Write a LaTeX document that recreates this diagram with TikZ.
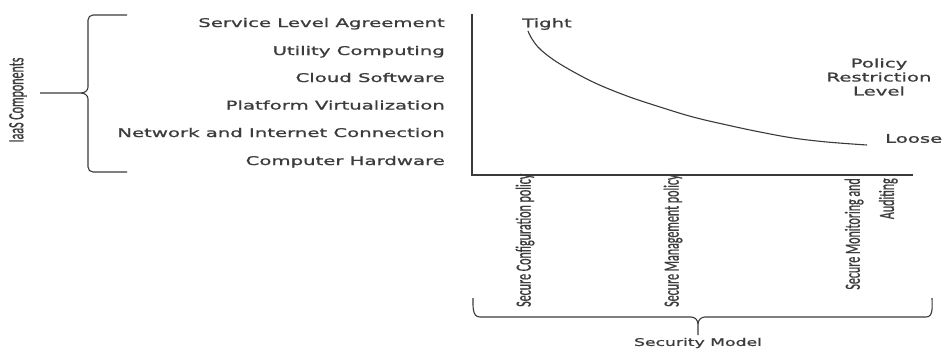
\documentclass[tikz,border=0pt]{standalone}
\usepackage{fontspec}
\newfontfamily\hfont[FakeStretch=1.64,FakeBold=1.2]{DejaVu Sans}
\newfontfamily\rfont[FakeBold=1]{Carlito}
\definecolor{txt}{HTML}{3C3C3C}
\definecolor{ln}{HTML}{3A3A3A}
\tikzset{
  comp/.style={anchor=base east, inner sep=0pt, text=txt, font=\hfont\fontsize{12}{14}\selectfont},
  lbl/.style={inner sep=0pt, text=txt, font=\hfont\fontsize{12}{14}\selectfont},
  rot/.style={rotate=90, inner sep=0pt, text=txt, font=\rfont\fontsize{12}{19}\selectfont},
  brace/.style={draw=ln, line width=1.1pt},
  axis/.style={draw=ln, line width=1.2pt}
}
\newcommand{\vst}[1]{\scalebox{1}[1.8]{#1}}
\begin{document}
\begin{tikzpicture}[x=1pt,y=-1pt]
\useasboundingbox (0,0) rectangle (942,349);
% components
\node[comp] (sla) at (445,27) {Service Level Agreement};
\node[comp] (uc) at (445,55) {Utility Computing};
\node[comp] (cs) at (445,82) {Cloud Software};
\node[comp] (pv) at (445,109.5) {Platform Virtualization};
\node[comp] (nic) at (445,137) {Network and Internet Connection};
\node[comp] (ch) at (445,165) {Computer Hardware};
% left brace
\draw[brace] (127,15) -- (93,15) to[out=180,in=90] (88,20) -- (88,87)
  to[out=-90,in=0] (81,93) -- (40,93);
\draw[brace] (81,93) to[out=0,in=90] (88,99) -- (88,167) to[out=-90,in=180] (93,172) -- (127,172);
\node[rot] (iaas) at (18,100) {\vst{IaaS Components}};
% axes
\coordinate (ytop) at (472,14);
\coordinate (orig) at (472,175);
\coordinate (xend) at (913,175);
\draw[axis] (ytop) -- (orig) -- (xend);
% curve
\draw[draw=ln, line width=1.1pt] plot[smooth, tension=0.6] coordinates {(528,31) (532,39) (541,50) (560,64) (593,82) (627,96) (660,107) (693,117) (727,125) (760,132) (793,138) (827,142) (867,145)};
\node[lbl] (tight) at (547,24) {Tight};
\node[lbl, align=center, font=\hfont\fontsize{12}{14}\selectfont] (prl) at (879,77) {Policy\\Restriction\\Level};
\node[lbl, anchor=west] (loose) at (885,138.5) {Loose};
% security model items
\node[rot, anchor=west] (scp) at (525,307) {\vst{Secure Configuration policy}};
\node[rot, anchor=west] (smp) at (673,307) {\vst{Secure Management policy}};
\node[rot, anchor=east] (sma) at (870,178) {\vst{\begin{tabular}{@{}r@{}}Secure Monitoring and\\Auditing\end{tabular}}};
% bottom brace
\draw[brace] (473,298) to[out=-90,in=180] (480,317) -- (691,317) to[out=0,in=90] (698,324) -- (698,335);
\draw[brace] (698,324) to[out=90,in=180] (705,317) -- (926,317) to[out=0,in=-90] (932,298);
\node[lbl, font=\hfont\fontsize{10.5}{12}\selectfont] (sm) at (698,343) {Security Model};
\end{tikzpicture}
\end{document}
